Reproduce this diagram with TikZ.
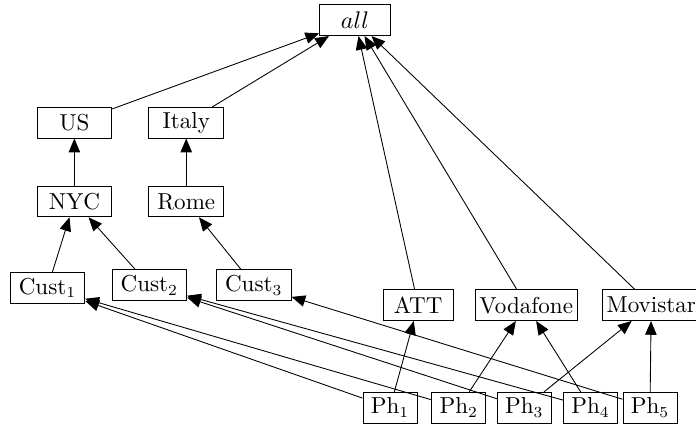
\documentclass[tikz,border=0pt]{standalone}
\usepackage{amsmath,amssymb}
\usepackage{tikz}
\usetikzlibrary{shapes,arrows}

\begin{document}
\begin{tikzpicture}
\tikzstyle{every node}=[font=\fontsize{10.5pt}{12pt}\selectfont]
\tikzstyle{box}=[draw, rectangle, inner xsep=2pt, inner ysep=2pt, minimum height=14pt]
\tikzstyle{lvl}=[box, minimum width=34pt]
\tikzstyle{phone}=[box, minimum width=24.6pt]
\tikzstyle{link}=[-triangle 45]
\useasboundingbox (0,0) rectangle (11.136,6.784);
% top
\node [box, minimum width=32.3pt] (all) at (5.68,6.46) {$all$};
% geography
\node [lvl] (us) at (1.19,4.82) {US};
\node [lvl] (italy) at (2.98,4.82) {Italy};
\node [lvl] (nyc) at (1.19,3.56) {NYC};
\node [lvl] (rome) at (2.98,3.56) {Rome};
\node [lvl] (cust1) at (0.76,2.18) {Cust$_1$};
\node [lvl] (cust2) at (2.39,2.22) {Cust$_2$};
\node [lvl] (cust3) at (4.06,2.22) {Cust$_3$};
% operators
\node [box, minimum width=31.9pt] (att) at (6.69,1.90) {ATT};
\node [box] (vodafone) at (8.42,1.90) {Vodafone};
\node [box] (movistar) at (10.42,1.90) {Movistar};
% phones
\node [phone] (ph1) at (6.24,0.26) {Ph$_1$};
\node [phone] (ph2) at (7.34,0.26) {Ph$_2$};
\node [phone] (ph3) at (8.39,0.26) {Ph$_3$};
\node [phone] (ph4) at (9.45,0.26) {Ph$_4$};
\node [phone] (ph5) at (10.40,0.26) {Ph$_5$};
% edges
\draw [link] (us) -- (all);
\draw [link] (italy) -- (all);
\draw [link] (att) -- (all);
\draw [link] (vodafone) -- (all);
\draw [link] (movistar) -- (all);
\draw [link] (nyc) -- (us);
\draw [link] (rome) -- (italy);
\draw [link] (cust1) -- (nyc);
\draw [link] (cust2) -- (nyc);
\draw [link] (cust3) -- (rome);
\draw [link] (ph1) -- (cust1);
\draw [link] (ph2) -- (cust1);
\draw [link] (ph3) -- (cust2);
\draw [link] (ph4) -- (cust2);
\draw [link] (ph5) -- (cust3);
\draw [link] (ph1) -- (att);
\draw [link] (ph2) -- (vodafone);
\draw [link] (ph4) -- (vodafone);
\draw [link] (ph3) -- (movistar);
\draw [link] (ph5) -- (movistar);
\end{tikzpicture}
\end{document}
